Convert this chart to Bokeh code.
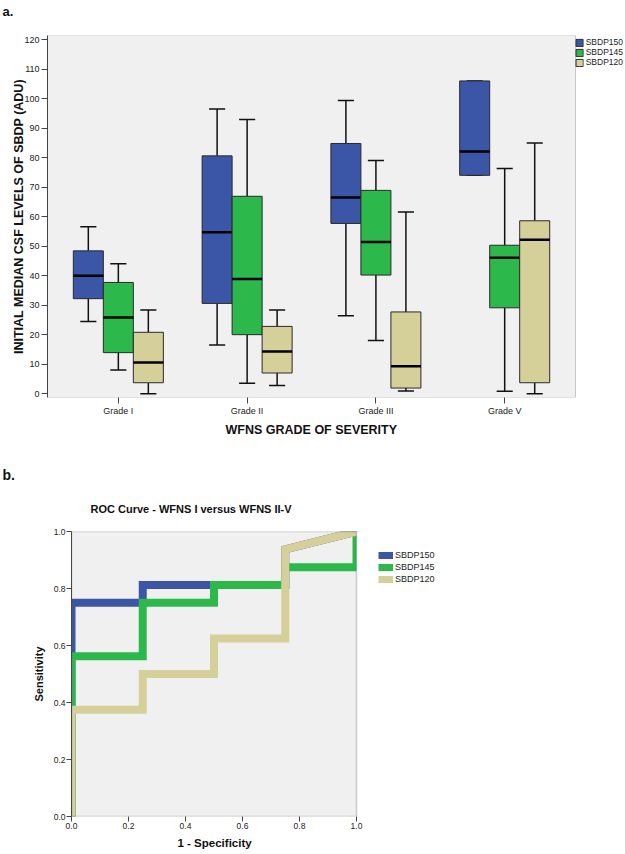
from bokeh.plotting import figure
from bokeh.models import (Range1d, Legend, LegendItem, Title, BoxAnnotation,
                          ColumnDataSource, FixedTicker, PrintfTickFormatter)
from bokeh.transform import dodge
from bokeh.embed import file_html
from bokeh.resources import INLINE

# ---------------- data: panel a (box plots) ----------------
grades = ["Grade I", "Grade II", "Grade III", "Grade V"]
series_names = ["SBDP150", "SBDP145", "SBDP120"]

sbdp150_low = [24.5, 16.5, 26.4, 74.0]
sbdp150_q1 = [32.2, 30.6, 57.7, 74.0]
sbdp150_med = [40.0, 54.7, 66.5, 82.1]
sbdp150_q3 = [48.4, 80.6, 84.8, 106.0]
sbdp150_high = [56.6, 96.5, 99.4, 106.0]

sbdp145_low = [8.0, 3.5, 18.0, 0.8]
sbdp145_q1 = [13.9, 20.0, 40.2, 29.1]
sbdp145_med = [25.8, 38.9, 51.4, 46.1]
sbdp145_q3 = [37.7, 66.9, 68.9, 50.3]
sbdp145_high = [44.0, 92.9, 79.0, 76.3]

sbdp120_low = [0.0, 2.8, 0.9, 0.0]
sbdp120_q1 = [3.7, 7.0, 1.9, 3.7]
sbdp120_med = [10.6, 14.3, 9.3, 52.2]
sbdp120_q3 = [20.8, 22.8, 27.7, 58.6]
sbdp120_high = [28.4, 28.4, 61.6, 85.0]

y_ticks = [0, 10, 20, 30, 40, 50, 60, 70, 80, 90, 100, 110, 120]

# ---------------- data: panel b (ROC curves) ----------------
sbdp150_fpr = [0.0, 0.0, 0.25, 0.25, 0.5, 0.75, 0.75, 1.0]
sbdp150_tpr = [0.0, 0.75, 0.75, 0.8125, 0.8125, 0.8125, 0.9375, 1.0]
sbdp145_fpr = [0.0, 0.0, 0.25, 0.25, 0.5, 0.5, 0.75, 0.75, 1.0, 1.0]
sbdp145_tpr = [0.0, 0.5625, 0.5625, 0.75, 0.75, 0.8125, 0.8125, 0.875, 0.875, 1.0]
sbdp120_fpr = [0.0, 0.0, 0.25, 0.25, 0.5, 0.5, 0.75, 0.75, 1.0]
sbdp120_tpr = [0.0, 0.375, 0.375, 0.5, 0.5, 0.625, 0.625, 0.9375, 1.0]
roc_ticks = [0.0, 0.2, 0.4, 0.6, 0.8, 1.0]

colors = ["#3B56A7", "#2DB84C", "#D5CF9A"]
FONT = "Liberation Sans"
BG = "#F0F0F0"
EDGE = "#555555"

# ---------------- figure a ----------------
grade_pos = list(range(len(grades)))
a_left, a_right, a_bottom, a_top = -0.55, 3.55, -1.3, 121.4

p1 = figure(width=625, height=438,
            x_range=Range1d(a_left, 3.938), y_range=Range1d(a_bottom, a_top),
            output_backend="svg", toolbar_location=None,
            min_border_left=47, min_border_right=0,
            min_border_top=35, min_border_bottom=40)
p1.background_fill_color = "white"
p1.border_fill_color = "white"
p1.outline_line_color = None
p1.grid.visible = False
p1.add_layout(BoxAnnotation(left=a_left, right=a_right, bottom=a_bottom, top=a_top,
                            fill_color=BG, fill_alpha=1, line_color=EDGE, line_width=1,
                            level="underlay"))

# spacer between the frame and the panel letter
p1.add_layout(Title(text=" ", text_font_size="1px", standoff=14), "above")
p1.title.text = "a."
p1.title.align = "left"
p1.title.offset = -45
p1.title.standoff = 0
p1.title.text_font = FONT
p1.title.text_font_style = "bold"
p1.title.text_font_size = "13px"
p1.title.text_color = "#111111"

p1.yaxis.ticker = FixedTicker(ticks=y_ticks)
p1.xaxis.ticker = FixedTicker(ticks=grade_pos)
p1.xaxis.major_label_overrides = {i: g for i, g in zip(grade_pos, grades)}
for ax in (p1.xaxis[0], p1.yaxis[0]):
    ax.axis_line_color = "#444444"
    ax.major_tick_line_color = "#444444"
    ax.major_tick_in = 0
    ax.major_tick_out = 6
    ax.minor_tick_line_color = None
    ax.major_label_text_font = FONT
    ax.major_label_text_font_size = "9px"
    ax.major_label_text_color = "#222222"
    ax.axis_label_text_font = FONT
    ax.axis_label_text_font_style = "bold"
    ax.axis_label_text_font_size = "12.5px"
    ax.axis_label_text_color = "#111111"
p1.xaxis.axis_line_color = None
p1.yaxis.major_label_standoff = 2
p1.yaxis.axis_label_standoff = -5
p1.xaxis.major_label_standoff = 2
p1.yaxis.axis_label = "INITIAL MEDIAN CSF LEVELS OF SBDP (ADU)"
p1.add_layout(Title(text="WFNS GRADE OF SEVERITY", align="left", offset=178, standoff=4,
                    text_font=FONT, text_font_style="bold", text_font_size="12.5px",
                    text_color="#111111"), "below")

box_data = [
    (sbdp150_low, sbdp150_q1, sbdp150_med, sbdp150_q3, sbdp150_high),
    (sbdp145_low, sbdp145_q1, sbdp145_med, sbdp145_q3, sbdp145_high),
    (sbdp120_low, sbdp120_q1, sbdp120_med, sbdp120_q3, sbdp120_high),
]
offsets = [-0.233, 0.0, 0.233]
bw = 0.233
cap = 0.125
legend_items = []
for name, color, off, (lo, q1, md, q3, hi) in zip(series_names, colors, offsets, box_data):
    src = ColumnDataSource(dict(pos=grade_pos, grade=grades, low=lo, q1=q1, med=md, q3=q3, high=hi))
    xc = dodge("pos", off)
    p1.segment(x0=xc, y0="q3", x1=xc, y1="high", source=src, line_color="#111111", line_width=1.5)
    p1.segment(x0=xc, y0="low", x1=xc, y1="q1", source=src, line_color="#111111", line_width=1.5)
    p1.segment(x0=dodge("pos", off - cap / 2), y0="high", x1=dodge("pos", off + cap / 2), y1="high",
               source=src, line_color="#111111", line_width=1.5)
    p1.segment(x0=dodge("pos", off - cap / 2), y0="low", x1=dodge("pos", off + cap / 2), y1="low",
               source=src, line_color="#111111", line_width=1.5)
    r = p1.vbar(x=xc, width=bw, bottom="q1", top="q3", source=src,
                fill_color=color, line_color="#2a2a2a", line_width=1)
    p1.segment(x0=dodge("pos", off - bw / 2), y0="med", x1=dodge("pos", off + bw / 2), y1="med",
               source=src, line_color="#000000", line_width=2.5)
    legend_items.append(LegendItem(label=name, renderers=[r]))

leg1 = Legend(items=legend_items, location="top_right", orientation="vertical",
              glyph_width=9, glyph_height=9, label_height=9, spacing=0,
              label_standoff=2, padding=0, margin=2,
              border_line_color=None, background_fill_alpha=0,
              label_text_font=FONT, label_text_font_size="8.5px",
              label_text_color="#222222")
p1.add_layout(leg1, "center")

# ---------------- figure b ----------------
p2 = figure(width=625, height=416,
            x_range=Range1d(0, 1.9439), y_range=Range1d(0, 1),
            output_backend="svg", toolbar_location=None,
            min_border_left=71, min_border_right=0,
            min_border_top=93, min_border_bottom=38)
p2.background_fill_color = "white"
p2.border_fill_color = "white"
p2.outline_line_color = None
p2.grid.visible = False
p2.add_layout(BoxAnnotation(left=0, right=1, bottom=0, top=1,
                            fill_color=BG, fill_alpha=1, line_color=None,
                            level="underlay"))

p2.title.text = "b."
p2.title.align = "left"
p2.title.offset = -69
p2.title.standoff = 2
p2.title.text_font = FONT
p2.title.text_font_style = "bold"
p2.title.text_font_size = "14px"
p2.title.text_color = "#111111"

roc_title = Title(text="ROC Curve - WFNS I versus WFNS II-V", align="left", offset=19,
                  standoff=34, text_font=FONT, text_font_style="bold",
                  text_font_size="11px", text_color="#111111")
p2.add_layout(roc_title, "above")

for ax in (p2.xaxis[0], p2.yaxis[0]):
    ax.ticker = FixedTicker(ticks=roc_ticks)
    ax.formatter = PrintfTickFormatter(format="%.1f")
    ax.axis_line_color = "#444444"
    ax.major_tick_line_color = "#444444"
    ax.major_tick_in = 0
    ax.major_tick_out = 5
    ax.minor_tick_line_color = None
    ax.major_label_text_font = FONT
    ax.major_label_text_font_size = "8.5px"
    ax.major_label_text_color = "#222222"
    ax.major_label_standoff = 1
    ax.axis_label_text_font = FONT
    ax.axis_label_text_font_style = "bold"
    ax.axis_label_text_font_size = "11px"
    ax.axis_label_text_color = "#111111"
p2.xaxis.axis_line_color = None
p2.yaxis.axis_label = "Sensitivity"
p2.yaxis.axis_label_standoff = 6
p2.add_layout(Title(text="1 - Specificity", align="left", offset=106, standoff=6,
                    text_font=FONT, text_font_style="bold", text_font_size="11.5px",
                    text_color="#111111"), "below")

roc_data = [(sbdp150_fpr, sbdp150_tpr), (sbdp145_fpr, sbdp145_tpr), (sbdp120_fpr, sbdp120_tpr)]
roc_items = []
for name, color, (fx, ty) in zip(series_names, colors, roc_data):
    r = p2.line(x=fx, y=ty, line_color=color, line_width=8, line_join="miter")
    roc_items.append(LegendItem(label=name, renderers=[r]))

# white mask right of the plot area (the original clips the thick lines at x = 1)
p2.add_layout(BoxAnnotation(left=1.0, fill_color="white", fill_alpha=1, line_color=None,
                            level="annotation"))
# plot-area edge drawn over the curves
p2.add_layout(BoxAnnotation(left=0, right=1, bottom=0, top=1,
                            fill_alpha=0, line_color=EDGE, line_width=1.5,
                            level="annotation"))

leg2 = Legend(items=roc_items, location=(307, 232), orientation="vertical",
              glyph_width=15, glyph_height=7, label_height=7, spacing=2,
              label_standoff=2, padding=0, margin=0,
              border_line_color=None, background_fill_alpha=0,
              label_text_font=FONT, label_text_font_size="9px",
              label_text_color="#222222")
p2.add_layout(leg2, "center")

open("out.html", "w").write(file_html([p1, p2], INLINE))
